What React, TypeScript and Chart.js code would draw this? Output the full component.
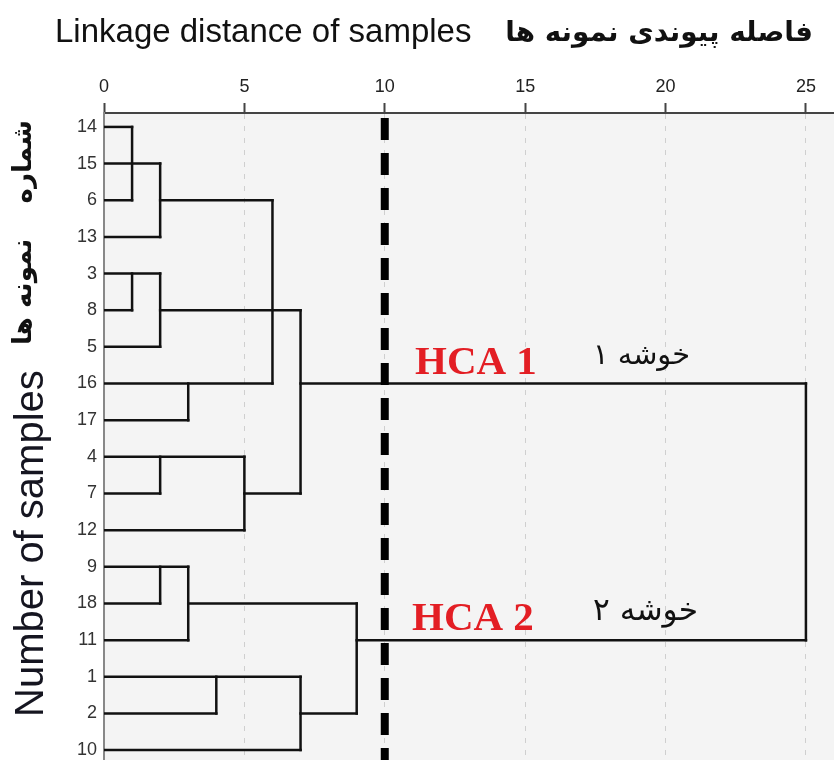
import React, { useEffect, useRef } from 'react';
import { Chart, registerables } from 'chart.js';

Chart.register(...registerables);

// ---- data ----
const leafLabels = ['14', '15', '6', '13', '3', '8', '5', '16', '17', '4', '7', '12', '9', '18', '11', '1', '2', '10'];
const xTickStep = 5;
// horizontal branches: [leaf row, from distance, to distance]
const horizontalBranches: number[][] = [
  [0, 0, 1], [1, 0, 2], [2, 0, 1], [3, 0, 2], [2, 2, 6],
  [4, 0, 2], [5, 0, 1], [6, 0, 2], [5, 2, 7],
  [7, 0, 6], [8, 0, 3], [7, 7, 25],
  [9, 0, 5], [10, 0, 2], [11, 0, 5], [10, 5, 7],
  [12, 0, 3], [13, 0, 2], [13, 3, 9], [14, 0, 3],
  [15, 0, 7], [16, 0, 4], [17, 0, 7], [16, 7, 9],
  [14, 9, 25],
];
// vertical joins: [linkage distance, from row, to row]
const verticalJoins: number[][] = [
  [1, 0, 2], [2, 1, 3], [6, 2, 7],
  [1, 4, 5], [2, 4, 6], [7, 5, 10],
  [3, 7, 8],
  [2, 9, 10], [5, 9, 11],
  [2, 12, 13], [3, 12, 14],
  [4, 15, 16], [7, 15, 17],
  [9, 13, 16],
  [25, 7, 14],
];
const cutDistance = 10;
const xTitleEn = 'Linkage distance of samples';
const xTitleFa = 'فاصله پیوندی نمونه ها';
const yTitleEn = 'Number of samples';
const yTitleFa1 = 'شماره';
const yTitleFa2 = 'نمونه ها';
const clusterNames = ['HCA 1', 'HCA 2'];
const clusterNamesFa = ['خوشه ۱', 'خوشه ۲'];
const clusterRows = [7, 14];

const X_MIN = 0;
const X_MAX = 26;
const Y_MIN = -0.38;
const Y_MAX = 17.27;

const SANS = '"Liberation Sans", Arial, sans-serif';
const FA = '"DejaVu Sans", "Noto Sans", sans-serif';
const SERIF = '"Liberation Serif", "Times New Roman", serif';

function drawFitted(ctx: CanvasRenderingContext2D, text: string, weight: string, family: string,
  targetWidth: number, x: number, y: number, align: CanvasTextAlign, rtl: boolean) {
  ctx.font = `${weight} 100px ${family}`;
  const w = ctx.measureText(text).width || 1;
  const size = (100 * targetWidth) / w;
  ctx.font = `${weight} ${size}px ${family}`;
  (ctx as any).direction = rtl ? 'rtl' : 'ltr';
  ctx.textAlign = align;
  ctx.fillText(text, x, y);
}

const bgPlugin = {
  id: 'plotBg',
  beforeDraw(chart: any) {
    const { ctx, chartArea } = chart;
    ctx.save();
    ctx.fillStyle = '#ffffff';
    ctx.fillRect(0, 0, chart.width, chart.height);
    ctx.fillStyle = '#f4f4f4';
    ctx.fillRect(chartArea.left, chartArea.top, chartArea.right - chartArea.left, chartArea.bottom - chartArea.top);
    ctx.restore();
  },
};

const textPlugin = {
  id: 'texts',
  afterDraw(chart: any) {
    const ctx: CanvasRenderingContext2D = chart.ctx;
    const ys = chart.scales.y;
    ctx.save();
    ctx.textBaseline = 'alphabetic';
    // top title
    ctx.fillStyle = '#111';
    ctx.font = `33px ${SANS}`;
    ctx.textAlign = 'left';
    (ctx as any).direction = 'ltr';
    ctx.fillText(xTitleEn, 55, 42);
    drawFitted(ctx, xTitleFa, 'bold', FA, 308, 813, 41, 'right', true);

    // left rotated title
    ctx.save();
    ctx.translate(43, 0);
    ctx.rotate(-Math.PI / 2);
    ctx.font = `40px ${SANS}`;
    ctx.textAlign = 'left';
    (ctx as any).direction = 'ltr';
    ctx.fillStyle = '#151520';
    ctx.fillText(yTitleEn, -717, 0);
    ctx.restore();

    ctx.save();
    ctx.translate(31, 0);
    ctx.rotate(-Math.PI / 2);
    ctx.fillStyle = '#111';
    ctx.font = `bold 100px ${FA}`;
    const w1 = ctx.measureText(yTitleFa1).width;
    const w2 = ctx.measureText(yTitleFa2).width;
    const size = (100 * 190) / (w1 + w2);
    ctx.font = `bold ${size}px ${FA}`;
    (ctx as any).direction = 'rtl';
    ctx.textAlign = 'right';
    ctx.fillText(yTitleFa1, -120, 0);
    ctx.textAlign = 'left';
    ctx.fillText(yTitleFa2, -345, 0);
    ctx.restore();

    // cluster annotations
    const hcaX = [415, 412];
    const faRight = [690, 698];
    const faWidth = [97, 105];
    clusterRows.forEach((row, i) => {
      const yPix = ys.getPixelForValue(row);
      ctx.fillStyle = '#e31e24';
      ctx.font = `bold 41px ${SERIF}`;
      ctx.textAlign = 'left';
      (ctx as any).direction = 'ltr';
      ctx.fillText(clusterNames[i], hcaX[i], yPix - 10);
      ctx.fillStyle = '#111';
      drawFitted(ctx, clusterNamesFa[i], 'normal', FA, faWidth[i], faRight[i], yPix - 20, 'right', true);
    });
    ctx.restore();
  },
};

export default function App() {
  const ref = useRef<HTMLCanvasElement>(null);
  useEffect(() => {
    document.body.style.margin = '0';
    const lineStyle = {
      borderColor: '#111',
      borderWidth: 2.5,
      pointRadius: 0,
      showLine: true,
      fill: false,
      tension: 0,
      borderCapStyle: 'square',
    };
    const datasets: any[] = [
      {
        data: [{ x: cutDistance, y: Y_MIN }, { x: cutDistance, y: Y_MAX }],
        borderColor: '#000',
        borderWidth: 8,
        borderDash: [22, 13],
        borderDashOffset: 30,
        borderCapStyle: 'butt',
        pointRadius: 0,
        showLine: true,
        fill: false,
      },
      ...horizontalBranches.map(([r, a, b]) => ({ data: [{ x: a, y: r }, { x: b, y: r }], ...lineStyle })),
      ...verticalJoins.map(([d, r1, r2]) => ({ data: [{ x: d, y: r1 }, { x: d, y: r2 }], ...lineStyle })),
    ];
    const chart = new Chart(ref.current as HTMLCanvasElement, {
      type: 'scatter',
      data: { datasets },
      options: {
        responsive: false,
        animation: false,
        events: [],
        layout: { padding: 0 },
        plugins: { legend: { display: false }, title: { display: false }, tooltip: { enabled: false } },
        scales: {
          x: {
            type: 'linear',
            position: 'top',
            min: X_MIN,
            max: X_MAX,
            ticks: {
              stepSize: xTickStep,
              includeBounds: false,
              color: '#222',
              font: { size: 18, family: SANS },
              padding: 5,
            },
            grid: {
              color: '#cfcfcf',
              lineWidth: 1,
              tickLength: 10,
              tickColor: '#444',
              tickWidth: 2,
              tickBorderDash: [],
            },
            border: { display: true, color: '#444', width: 2, dash: [5, 7] },
            afterFit: (s: any) => {
              s.height = 113;
              s.paddingLeft = 0;
              s.paddingRight = 0;
            },
          },
          y: {
            type: 'linear',
            position: 'left',
            reverse: true,
            min: Y_MIN,
            max: Y_MAX,
            ticks: {
              stepSize: 1,
              includeBounds: false,
              autoSkip: false,
              color: '#333',
              font: { size: 18, family: SANS },
              padding: 7,
              callback: (v: any) => leafLabels[v] ?? '',
            },
            grid: { display: false, drawTicks: false },
            border: { display: true, color: '#888', width: 2 },
            afterFit: (s: any) => {
              s.width = 104;
              s.paddingTop = 0;
              s.paddingBottom = 0;
            },
          },
        },
      } as any,
      plugins: [bgPlugin, textPlugin],
    });
    return () => chart.destroy();
  }, []);
  return <canvas ref={ref} width={834} height={760} style={{ display: 'block', width: 834, height: 760 }} />;
}
